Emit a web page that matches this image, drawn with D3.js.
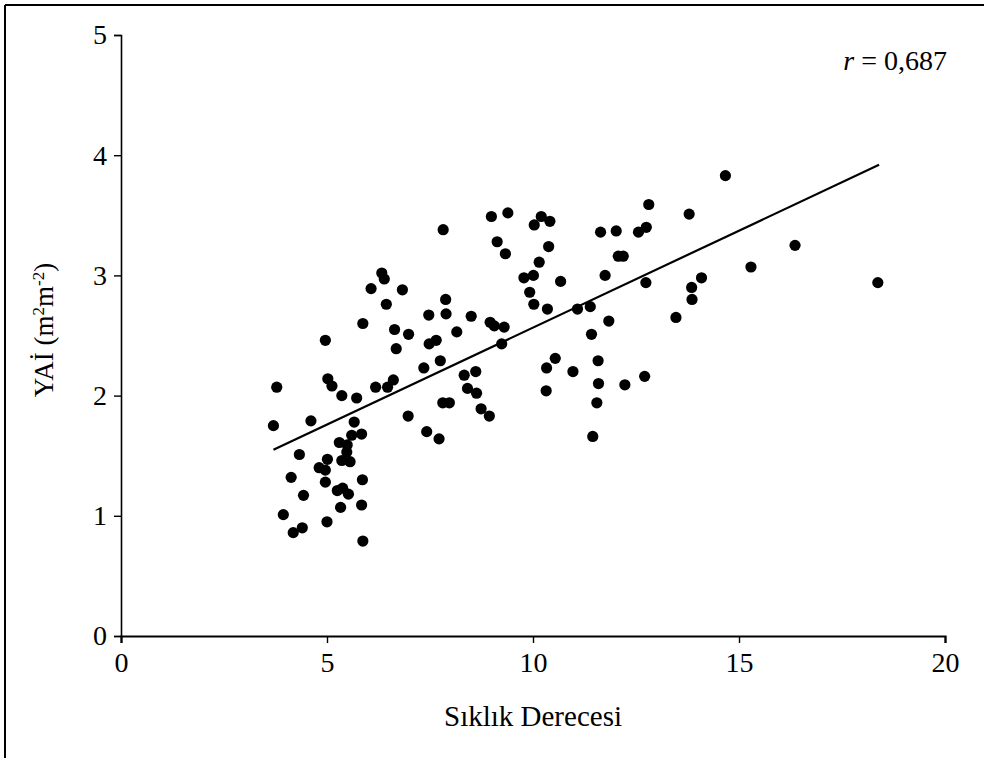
<!DOCTYPE html>
<html lang="tr">
<head>
<meta charset="utf-8">
<title>YAİ - Sıklık Derecesi</title>
<script src="https://cdn.jsdelivr.net/npm/d3@7"></script>
<style>
  body { margin: 0; background: #fff; }
  text { font-family: "Liberation Serif", "Times New Roman", serif; fill: #000; }
</style>
</head>
<body>
<script>
// data
var siklik = [6.33, 6.39, 6.07, 6.83, 6.44, 7.88, 5.87, 7.47, 7.89, 8.50,
              8.96, 9.06, 6.64, 6.98, 4.96, 7.48, 7.65, 8.15, 6.68, 9.24,
              7.75, 7.35, 8.33, 8.61, 5.02, 5.12, 6.18, 6.47, 6.61, 5.36,
              5.72, 3.78, 8.41, 8.63, 7.81, 7.97, 8.74, 8.94, 6.97, 3.70,
              4.61, 5.66, 7.42, 7.72, 5.60, 5.84, 5.30, 5.49, 5.48, 4.33,
              5.01, 5.36, 5.56, 4.81, 4.96, 4.13, 5.86, 4.96, 5.25, 5.38,
              5.52, 4.43, 5.33, 5.84, 3.94, 5.00, 4.18, 4.40, 5.87,
              8.99, 9.39, 10.20, 10.03, 10.41, 9.13, 9.33, 10.38, 10.15, 12.81,
              13.79, 11.64, 12.02, 12.56, 12.75, 12.07, 12.19, 9.78, 10.01, 10.67,
              11.75, 9.92, 10.02, 10.35, 12.74, 13.85, 14.09, 13.86, 11.08, 11.39,
              9.30, 11.84, 11.42, 13.47, 10.54, 10.33, 10.97, 11.58, 10.32, 11.59,
              12.23, 12.71, 11.55, 11.45, 14.67, 16.36, 15.29, 18.37, 7.82];
var yai = [3.02, 2.97, 2.89, 2.88, 2.76, 2.80, 2.60, 2.67, 2.68, 2.66,
           2.61, 2.58, 2.55, 2.51, 2.46, 2.43, 2.46, 2.53, 2.39, 2.43,
           2.29, 2.23, 2.17, 2.20, 2.14, 2.08, 2.07, 2.07, 2.13, 2.00,
           1.98, 2.07, 2.06, 2.02, 1.94, 1.94, 1.89, 1.83, 1.83, 1.75,
           1.79, 1.78, 1.70, 1.64, 1.67, 1.68, 1.61, 1.59, 1.53, 1.51,
           1.47, 1.46, 1.45, 1.40, 1.38, 1.32, 1.30, 1.28, 1.21, 1.23,
           1.18, 1.17, 1.07, 1.09, 1.01, 0.95, 0.86, 0.90, 0.79,
           3.49, 3.52, 3.49, 3.42, 3.45, 3.28, 3.18, 3.24, 3.11, 3.59,
           3.51, 3.36, 3.37, 3.36, 3.40, 3.16, 3.16, 2.98, 3.00, 2.95,
           3.00, 2.86, 2.76, 2.72, 2.94, 2.90, 2.98, 2.80, 2.72, 2.74,
           2.57, 2.62, 2.51, 2.65, 2.31, 2.23, 2.20, 2.29, 2.04, 2.10,
           2.09, 2.16, 1.94, 1.66, 3.83, 3.25, 3.07, 2.94, 3.38];

// trend line ends
var trendX = [3.7, 18.4];
var trendY = [1.55, 3.92];

var xTicks = [0, 5, 10, 15, 20];
var yTicks = [0, 1, 2, 3, 4, 5];

var W = 984, H = 758;
var margin = {top: 35, right: 39, bottom: 122, left: 121};

var svg = d3.select("body").append("svg")
    .attr("width", W)
    .attr("height", H);

// frame around the figure
svg.append("line").attr("x1", 5).attr("y1", 5).attr("x2", 5).attr("y2", H)
    .attr("stroke", "#000").attr("stroke-width", 2);
svg.append("line").attr("x1", 5).attr("y1", 5).attr("x2", W).attr("y2", 5)
    .attr("stroke", "#000").attr("stroke-width", 2);

var x = d3.scaleLinear().domain([0, 20]).range([margin.left, W - margin.right]);
var y = d3.scaleLinear().domain([0, 5]).range([H - margin.bottom, margin.top]);

var xAxis = svg.append("g")
    .attr("transform", "translate(0," + y(0) + ")")
    .call(d3.axisBottom(x).tickValues(xTicks).tickFormat(d3.format("d"))
        .tickSize(7).tickPadding(9));
var yAxis = svg.append("g")
    .attr("transform", "translate(" + x(0) + ",0)")
    .call(d3.axisLeft(y).tickValues(yTicks).tickFormat(d3.format("d"))
        .tickSize(7).tickPadding(7));

[xAxis, yAxis].forEach(function (g) {
    g.select(".domain").attr("stroke", "#000").attr("stroke-width", 1.6);
    g.selectAll(".tick line").attr("stroke", "#000").attr("stroke-width", 1.4);
    g.selectAll(".tick text")
        .style("font-family", "'Liberation Serif', serif")
        .style("font-size", "28px")
        .attr("fill", "#000");
});
xAxis.select(".domain").attr("stroke-width", 2.2);

var pts = d3.range(siklik.length).map(function (i) {
    return {x: siklik[i], y: yai[i]};
});

svg.append("g").selectAll("circle")
    .data(pts)
    .enter()
    .append("circle")
    .attr("cx", function (d) { return x(d.x); })
    .attr("cy", function (d) { return y(d.y); })
    .attr("r", 5.6)
    .attr("fill", "#000");

var line = d3.line()
    .x(function (d) { return x(d[0]); })
    .y(function (d) { return y(d[1]); });
svg.append("path")
    .datum(d3.zip(trendX, trendY))
    .attr("d", line)
    .attr("fill", "none")
    .attr("stroke", "#000")
    .attr("stroke-width", 2.2);

// r label
var rt = svg.append("text")
    .attr("x", W - 37)
    .attr("y", 70)
    .attr("text-anchor", "end")
    .style("font-size", "28px");
rt.append("tspan").style("font-style", "italic").text("r");
rt.append("tspan").text(" = 0,687");

// axis titles
svg.append("text")
    .attr("x", (x(0) + x(20)) / 2)
    .attr("y", 726)
    .attr("text-anchor", "middle")
    .style("font-size", "29px")
    .text("Sıklık Derecesi");

var yl = svg.append("text")
    .attr("transform", "translate(53," + 330 + ") rotate(-90)")
    .attr("text-anchor", "middle")
    .style("font-size", "27px");
yl.append("tspan").text("YAİ (m");
yl.append("tspan").attr("baseline-shift", "super").style("font-size", "17px").text("2");
yl.append("tspan").text("m");
yl.append("tspan").attr("baseline-shift", "super").style("font-size", "17px").text("-2");
yl.append("tspan").text(")");
</script>
</body>
</html>
